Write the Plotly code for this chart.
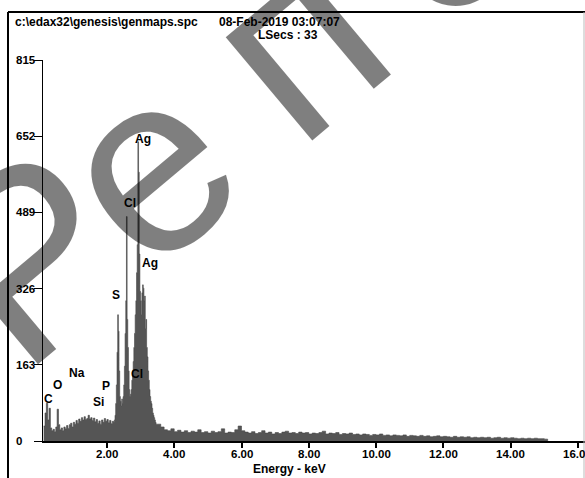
import numpy as np
import plotly.graph_objects as go

# ---- spectrum data (channel grid segments: start keV, step keV, counts) ----
SEG1_START, SEG1_STEP = 0.12, 0.04
SEG1_COUNTS = [32, 60, 81, 45, 70, 28, 22, 25, 20, 30, 68, 35, 24, 28, 22, 30, 26, 33, 27, 35,
               38, 30, 40, 36, 44, 38, 47, 42, 50, 45, 52, 46, 48, 55, 47, 50, 44, 49, 41, 46,
               38, 43, 36, 45, 40, 48, 42, 46, 39, 44, 37, 42, 40]

SEG2_START, SEG2_STEP = 2.22, 0.02
SEG2_COUNTS = [45, 55, 80, 120, 190, 270, 235, 150, 95, 85, 75, 90, 80, 95, 120, 160, 230, 300,
               480, 260, 200, 150, 110, 95, 100, 110, 130, 150, 170, 200, 230, 270, 300, 360,
               420, 640, 575, 400, 320, 300, 270, 317, 334, 327, 300, 310, 240, 260, 200, 180,
               150, 130, 110, 95, 85, 80, 70, 60, 55, 50, 45, 40, 36]

SEG3_START, SEG3_STEP = 3.50, 0.10
SEG3_COUNTS = [36, 30, 24, 22, 26, 20, 23, 19, 22, 18, 21, 19, 24, 18, 20, 17, 21, 18, 20, 26,
               17, 19, 18, 24, 32, 22, 19, 17, 20, 16, 18, 22, 17, 19, 15, 18, 16, 19, 21, 17,
               18, 16, 19, 17, 18, 15, 17, 16, 18, 21, 15, 17, 16, 18, 14, 16, 15, 17, 14, 15,
               13, 15, 14, 12, 14, 13, 15, 12, 13, 11, 13, 12, 11, 13, 10, 12, 11, 10, 12, 10,
               11, 9, 10, 11, 9, 10, 9, 8, 10, 8, 9, 8, 9, 7, 8, 7, 8, 7, 8, 6,
               7, 8, 6, 7, 6, 7, 6, 5, 6, 5, 6, 5, 6, 5, 5, 4]

# ---- axis ticks ----
X_TICKS = [2, 4, 6, 8, 10, 12, 14, 16]
X_TICK_TEXT = ["2.00", "4.00", "6.00", "8.00", "10.00", "12.00", "14.00", "16.00"]
Y_TICKS = [0, 163, 326, 489, 652, 815]
Y_TICK_TEXT = ["0", "163", "326", "489", "652", "815"]

# ---- element labels (keV, counts) ----
EL_NAMES = ["C", "O", "Na", "Si", "P", "S", "Cl", "Ag", "Ag", "Cl"]
EL_KEV = [0.25, 0.54, 1.11, 1.76, 1.97, 2.27, 2.68, 3.07, 3.28, 2.89]
EL_CNT = [90, 120, 146, 84, 118, 312, 509, 646, 380, 143]

# ---- watermark letters ----
WM_LETTERS = ["Р", "е", "п", "о"]


def seg(start, step, counts):
    e = start + step * np.arange(len(counts))
    return list(e), list(counts)


E, C = [], []
for s, st, c in [(SEG1_START, SEG1_STEP, SEG1_COUNTS), (SEG2_START, SEG2_STEP, SEG2_COUNTS),
                 (SEG3_START, SEG3_STEP, SEG3_COUNTS)]:
    e, cc = seg(s, st, c)
    E += e
    C += cc
E.append(E[-1] + SEG3_STEP)
C.append(0)

FONT = "Liberation Sans, Arial, sans-serif"
W, H = 585, 478
ML, MR, MT, MB = 43, 0, 60, 37
PW, PH = W - ML - MR, H - MT - MB


def px(x):
    return (x - ML) / PW


def py(y):
    return (H - MB - y) / PH


fig = go.Figure()
fig.add_trace(go.Scatter(x=E, y=C, mode="lines", line=dict(shape="hv", width=0.6, color="#474747"),
                         fill="tozeroy", fillcolor="#555555", hoverinfo="skip"))

ann = []
for n, k, c in zip(EL_NAMES, EL_KEV, EL_CNT):
    ann.append(dict(x=k, y=c, xref="x", yref="y", text="<b>%s</b>" % n, showarrow=False,
                    font=dict(family=FONT, size=12, color="black")))
for v, t in zip(Y_TICKS, Y_TICK_TEXT):
    ann.append(dict(x=px(14), y=v, xref="paper", yref="y", text="<b>%s</b>" % t, showarrow=False,
                    xanchor="left", yanchor="middle", font=dict(family=FONT, size=11.5, color="black")))
for v, t in zip(X_TICKS, X_TICK_TEXT):
    ann.append(dict(x=v, y=py(454), xref="x", yref="paper", text="<b>%s</b>" % t, showarrow=False,
                    xanchor="center", yanchor="middle", font=dict(family=FONT, size=11.5, color="black")))
ann.append(dict(x=px(13), y=py(22), xref="paper", yref="paper", text="<b>c:\\edax32\\genesis\\genmaps.spc</b>",
                showarrow=False, xanchor="left", yanchor="middle", font=dict(family=FONT, size=12, color="black")))
ann.append(dict(x=px(217), y=py(22), xref="paper", yref="paper", text="<b>08-Feb-2019 03:07:07</b>",
                showarrow=False, xanchor="left", yanchor="middle", font=dict(family=FONT, size=12, color="black")))
ann.append(dict(x=px(256), y=py(35), xref="paper", yref="paper", text="<b>LSecs : 33</b>",
                showarrow=False, xanchor="left", yanchor="middle", font=dict(family=FONT, size=12, color="black")))
ann.append(dict(x=px(289), y=py(469), xref="paper", yref="paper", text="<b>Energy - keV</b>",
                showarrow=False, xanchor="center", yanchor="middle", font=dict(family=FONT, size=12, color="black")))
# watermark, one letter per annotation (spaced watermark)
WM_POS = [(30, 255), (145, 165), (295, 40), (435, -80)]
for ch, (wx, wy) in zip(WM_LETTERS, WM_POS):
    ann.append(dict(x=px(wx), y=py(wy), xref="paper", yref="paper", text=ch,
                    showarrow=False, xanchor="center", yanchor="middle", textangle=-40,
                    font=dict(family=FONT, size=255, color="rgba(0,0,0,0.5)")))

shapes = [
    dict(type="line", xref="paper", yref="paper", x0=px(8), x1=px(590), y0=py(12), y1=py(12),
         line=dict(color="black", width=2)),
    dict(type="line", xref="paper", yref="paper", x0=px(8), x1=px(8), y0=py(12), y1=py(490),
         line=dict(color="black", width=2)),
    dict(type="line", xref="paper", yref="paper", x0=px(584), x1=px(584), y0=py(12), y1=py(490),
         line=dict(color="#bbbbbb", width=1)),
]

fig.update_layout(
    width=W, height=H, margin=dict(l=ML, r=MR, t=MT, b=MB),
    paper_bgcolor="white", plot_bgcolor="white", showlegend=False,
    annotations=ann, shapes=shapes,
    xaxis=dict(range=[0.1, 16.21], tickvals=X_TICKS, showticklabels=False, ticks="outside",
               ticklen=5, tickwidth=2, tickcolor="black", showline=True, linewidth=2, linecolor="black",
               showgrid=False, zeroline=False),
    yaxis=dict(range=[0, 815], tickvals=Y_TICKS, showticklabels=False, ticks="outside", ticklen=8,
               tickwidth=1, tickcolor="black", showline=True, linewidth=1, linecolor="black",
               showgrid=False, zeroline=False),
)

fig.write_html("out.html")
